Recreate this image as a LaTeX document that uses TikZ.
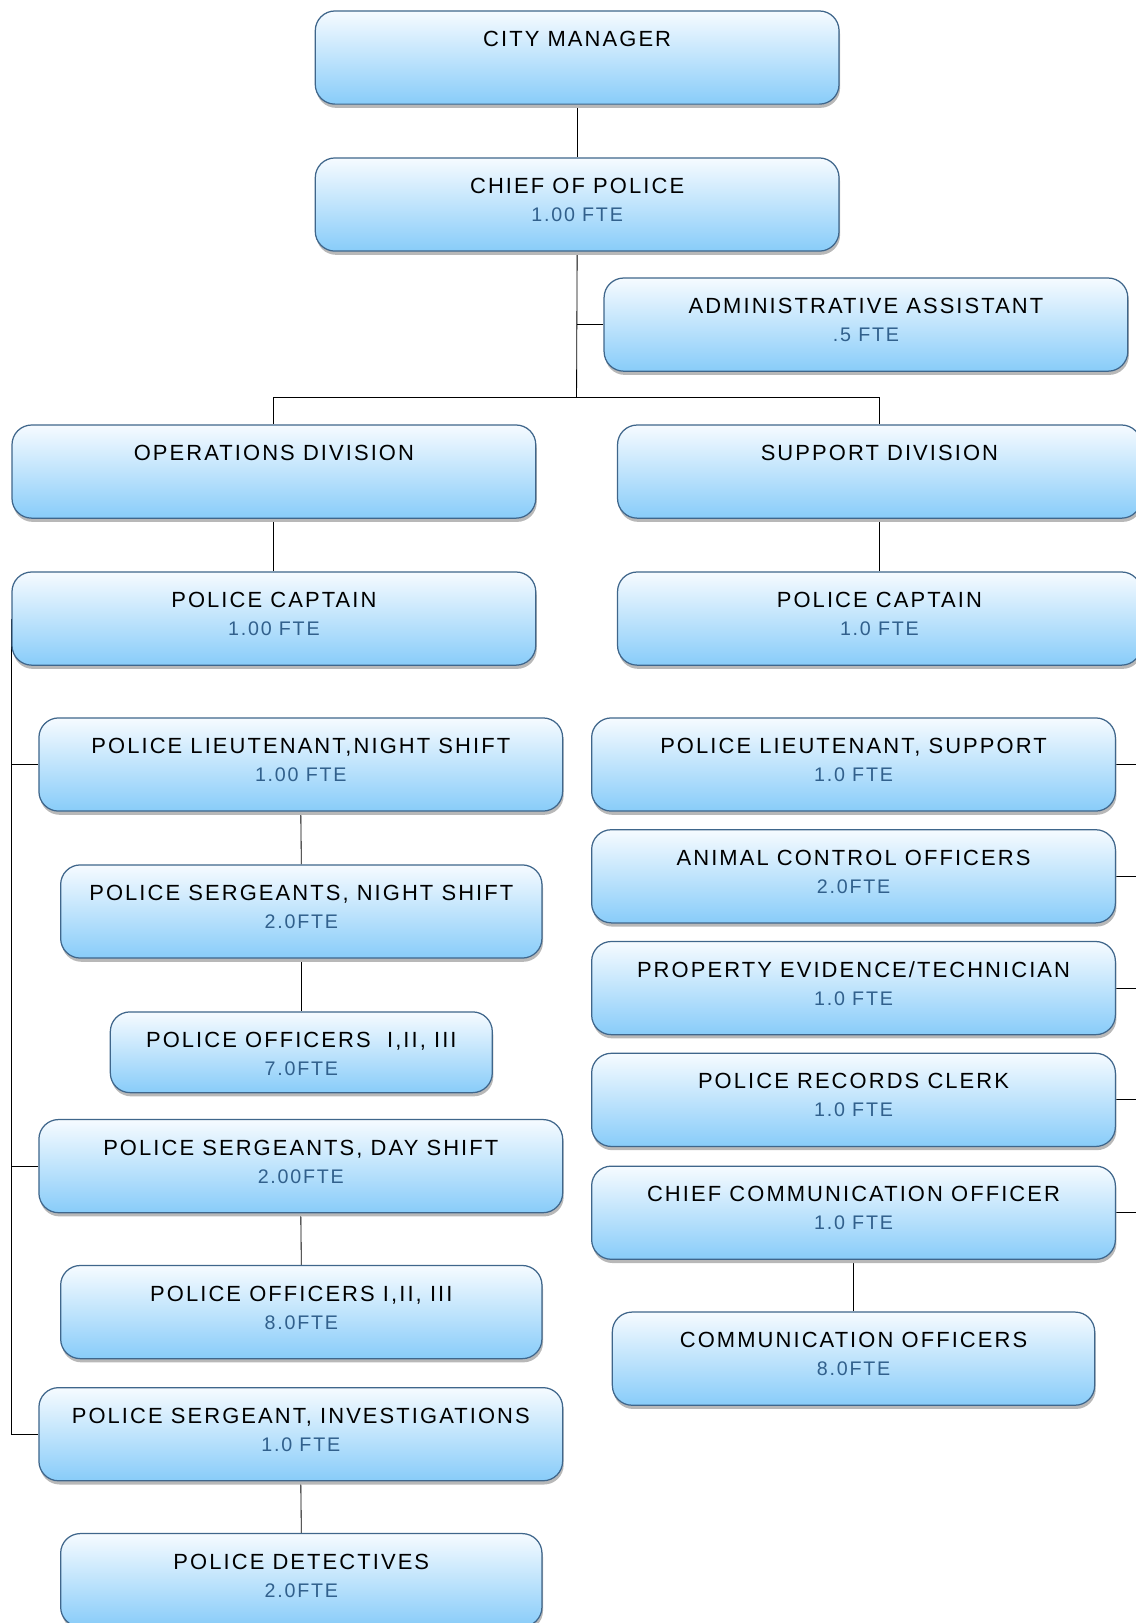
\documentclass[tikz,border=0pt]{standalone}
\usepackage{fontspec}
\setmainfont[LetterSpace=9.5]{Liberation Sans}
\newfontfamily\ftefont[LetterSpace=9]{Liberation Sans}
\usetikzlibrary{shadows,backgrounds}

\definecolor{boxtop}{HTML}{F6FBFF}
\definecolor{boxbot}{HTML}{88CCF9}
\definecolor{boxline}{HTML}{3F668B}
\definecolor{ftecol}{HTML}{31608C}
\definecolor{wire}{HTML}{333333}

\tikzset{
  orgbox/.style={rectangle, rounded corners=9.5pt, draw=boxline, line width=0.6pt,
    top color=boxtop, bottom color=boxbot, inner sep=0pt, anchor=north west,
    drop shadow={shadow xshift=0.5pt, shadow yshift=-1.8pt, fill=black!28, opacity=1}},
  ttl/.style={anchor=base, inner sep=0pt, font=\fontsize{10.6}{12}\selectfont, text=black},
  fte/.style={anchor=base, inner sep=0pt, font=\ftefont\fontsize{9.5}{11}\selectfont, text=ftecol},
  wireline/.style={draw=wire, line width=0.55pt}
}

% \posbox{name}{x}{y}{width}{height}{title}{fte}
\newcommand\posbox[7]{%
  \node[orgbox, minimum width=#4, minimum height=#5] (#1) at (#2,#3) {};
  \node[ttl] (#1-t) at ([yshift=-17.5pt]#1.north) {#6};
  \node[fte] (#1-f) at ([yshift=-31pt]#1.north) {#7};}
% \unitbox{name}{x}{y}{width}{height}{title}
\newcommand\unitbox[6]{%
  \node[orgbox, minimum width=#4, minimum height=#5] (#1) at (#2,#3) {};
  \node[ttl] (#1-t) at ([yshift=-17.5pt]#1.north) {#6};}

\begin{document}
\begin{tikzpicture}[x=0.5pt, y=-0.5pt]
\useasboundingbox (0,0) rectangle (1097,1568);

% top of the chart
\unitbox{cm}{304}{10}{253pt}{45pt}{CITY MANAGER}
\posbox{chief}{304}{152}{253pt}{45pt}{CHIEF OF POLICE}{1.00 FTE}
\posbox{admin}{583}{268}{253pt}{45pt}{ADMINISTRATIVE ASSISTANT}{.5 FTE}

% divisions
\unitbox{ops}{11}{410}{253pt}{45pt}{OPERATIONS DIVISION}
\unitbox{sup}{596}{410}{253pt}{45pt}{SUPPORT DIVISION}
\posbox{capL}{11}{552}{253pt}{45pt}{POLICE CAPTAIN}{1.00 FTE}
\posbox{capR}{596}{552}{253pt}{45pt}{POLICE CAPTAIN}{1.0 FTE}

% operations column
\posbox{ltN}{37}{693}{253pt}{45pt}{POLICE LIEUTENANT,NIGHT SHIFT}{1.00 FTE}
\posbox{sgtN}{58}{835}{232.5pt}{45pt}{POLICE SERGEANTS, NIGHT SHIFT}{2.0FTE}
\posbox{offN}{106}{977}{184.5pt}{39pt}{POLICE OFFICERS\ \ I,II, III}{7.0FTE}
\posbox{sgtD}{37}{1081}{253pt}{45pt}{POLICE SERGEANTS, DAY SHIFT}{2.00FTE}
\posbox{offD}{58}{1222}{232.5pt}{45pt}{POLICE OFFICERS I,II, III}{8.0FTE}
\posbox{sgtI}{37}{1340}{253pt}{45pt}{POLICE SERGEANT, INVESTIGATIONS}{1.0 FTE}
\posbox{det}{58}{1481}{232.5pt}{45pt}{POLICE DETECTIVES}{2.0FTE}

% support column
\posbox{ltS}{571}{693}{253pt}{45pt}{POLICE LIEUTENANT, SUPPORT}{1.0 FTE}
\posbox{aco}{571}{801}{253pt}{45pt}{ANIMAL CONTROL OFFICERS}{2.0FTE}
\posbox{prop}{571}{909}{253pt}{45pt}{PROPERTY EVIDENCE/TECHNICIAN}{1.0 FTE}
\posbox{rec}{571}{1017}{253pt}{45pt}{POLICE RECORDS CLERK}{1.0 FTE}
\posbox{cco}{571}{1126}{253pt}{45pt}{CHIEF COMMUNICATION OFFICER}{1.0 FTE}
\posbox{comm}{591}{1267}{233pt}{45pt}{COMMUNICATION OFFICERS}{8.0FTE}

\coordinate (bus) at (557,384);
\coordinate (rbus) at (1110,0);

\begin{scope}[on background layer, wireline]
  \draw (cm.south) -- (chief.north);
  \draw (chief.south) -- (bus);
  \draw (admin.west) -- (admin.west -| chief.south);
  \draw (ops.north) |- (bus);
  \draw (sup.north) |- (bus);
  \draw (ops.south) -- (capL.north);
  \draw (sup.south) -- (capR.north);
  % operations spine and branches
  \draw (capL.west) -- (capL.west |- sgtI.west);
  \draw (ltN.west) -- (ltN.west -| capL.west);
  \draw (sgtD.west) -- (sgtD.west -| capL.west);
  \draw (sgtI.west) -- (sgtI.west -| capL.west);
  \draw (ltN.south) -- (sgtN.north);
  \draw (sgtN.south) -- (offN.north);
  \draw (sgtD.south) -- (offD.north);
  \draw (sgtI.south) -- (det.north);
  % support branches
  \draw (ltS.east) -- (ltS.east -| rbus);
  \draw (aco.east) -- (aco.east -| rbus);
  \draw (prop.east) -- (prop.east -| rbus);
  \draw (rec.east) -- (rec.east -| rbus);
  \draw (cco.east) -- (cco.east -| rbus);
  \draw (cco.south) -- (comm.north);
\end{scope}
\end{tikzpicture}
\end{document}
